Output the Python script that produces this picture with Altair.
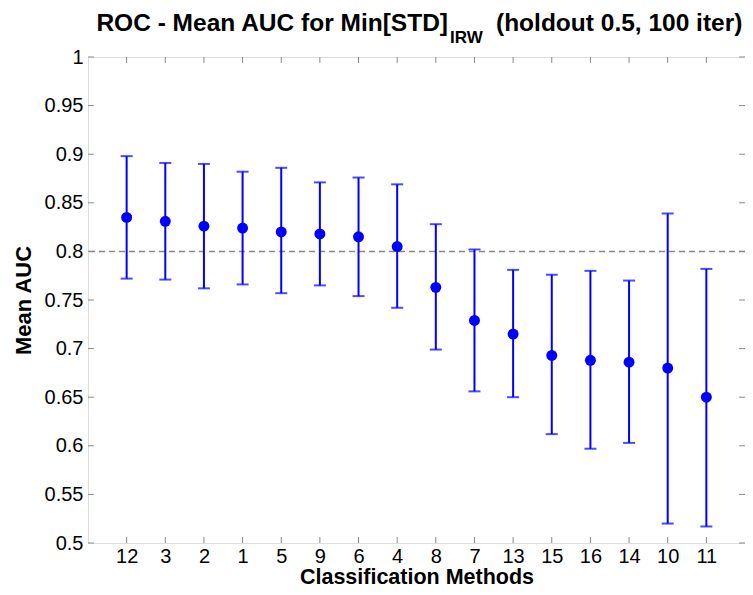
import altair as alt
import pandas as pd

# ---- data ----
methods = ["12", "3", "2", "1", "5", "9", "6", "4", "8", "7", "13", "15", "16", "14", "10", "11"]
mean_auc = [0.835, 0.831, 0.826, 0.824, 0.820, 0.818, 0.815, 0.805, 0.763, 0.729,
            0.715, 0.693, 0.688, 0.686, 0.680, 0.650]
upper = [0.898, 0.891, 0.890, 0.882, 0.886, 0.871, 0.876, 0.869, 0.828, 0.802,
         0.781, 0.776, 0.780, 0.770, 0.839, 0.782]
lower = [0.772, 0.771, 0.762, 0.766, 0.757, 0.765, 0.754, 0.742, 0.699, 0.656,
         0.650, 0.612, 0.597, 0.603, 0.520, 0.517]
y_ticks = [0.5, 0.55, 0.6, 0.65, 0.7, 0.75, 0.8, 0.85, 0.9, 0.95, 1.0]
threshold = [0.8]
title_main = ["ROC - Mean AUC for Min[STD]"]
title_sub = ["IRW"]
title_tail = ["(holdout 0.5, 100 iter)"]
x_title = "Classification Methods"
y_title = "Mean AUC"

FONT = "Liberation Sans"
BLUE = "#0000ff"
GRAY = "#8a8a8a"
W, H = 657, 486
TOP = 49  # plot top sits at 8 + TOP

df = pd.DataFrame({"method": methods, "auc": mean_auc, "lo": lower, "hi": upper})
xs = alt.Scale(type="point", domain=methods, padding=1)
ys = alt.Scale(domain=[0.5, 1.0], nice=False, zero=False)

xaxis = alt.Axis(title=x_title, labelAngle=0, domain=False, ticks=False, tickSize=0,
                 grid=False, labelFont=FONT, labelFontSize=20, labelColor="black",
                 labelPadding=3, titleFont=FONT, titleFontSize=21.5, titleFontWeight="bold",
                 titleColor="black", titleBaseline="alphabetic", titleY=40)
yaxis = alt.Axis(title=y_title, values=y_ticks, format=".2~f", domain=False, ticks=False,
                 tickSize=0, grid=False, labelFont=FONT, labelFontSize=20,
                 labelColor="black", labelPadding=5, titleFont=FONT, titleFontSize=22,
                 titleFontWeight="bold", titleColor="black", titleBaseline="alphabetic",
                 titleX=-58, titleY=H / 2, titleAlign="center", titleAngle=270)


def xenc(field="method"):
    return alt.X(f"{field}:N", scale=xs, axis=xaxis)


def yenc(field):
    return alt.Y(f"{field}:Q", scale=ys, axis=yaxis)


dash = alt.Chart(pd.DataFrame({"thr": threshold})).mark_rule(
    color="#888888", strokeWidth=1.5, strokeDash=[6, 4]
).encode(y=yenc("thr"))

bars = alt.Chart(df).mark_rule(color=BLUE, strokeWidth=2).encode(
    x=xenc(), y=yenc("lo"), y2="hi:Q")
cap_lo = alt.Chart(df).mark_tick(color=BLUE, thickness=2, size=12, orient="horizontal").encode(
    x=xenc(), y=yenc("lo"))
cap_hi = alt.Chart(df).mark_tick(color=BLUE, thickness=2, size=12, orient="horizontal").encode(
    x=xenc(), y=yenc("hi"))
pts = alt.Chart(df).mark_circle(color=BLUE, size=120, opacity=1).encode(
    x=xenc(), y=yenc("auc"))

xt = pd.DataFrame({"method": methods})
yt = pd.DataFrame({"v": y_ticks})
tick_b = alt.Chart(xt).mark_rule(color=GRAY, strokeWidth=1).encode(
    x=xenc(), y=alt.value(H), y2=alt.value(H - 6))
tick_t = alt.Chart(xt).mark_rule(color=GRAY, strokeWidth=1).encode(
    x=xenc(), y=alt.value(0), y2=alt.value(6))
tick_l = alt.Chart(yt).mark_rule(color=GRAY, strokeWidth=1).encode(
    y=yenc("v"), x=alt.value(0), x2=alt.value(6))
tick_r = alt.Chart(yt).mark_rule(color=GRAY, strokeWidth=1).encode(
    y=yenc("v"), x=alt.value(W - 6), x2=alt.value(W))

top_abs = 8 + TOP
t1 = alt.Chart(pd.DataFrame({"t": title_main})).mark_text(
    font=FONT, fontSize=24.5, fontWeight="bold", align="right", baseline="alphabetic",
    color="black").encode(x=alt.value(360), y=alt.value(31 - top_abs), text="t:N")
t2 = alt.Chart(pd.DataFrame({"t": title_sub})).mark_text(
    font=FONT, fontSize=17, fontWeight="bold", align="left", baseline="alphabetic",
    color="black").encode(x=alt.value(362), y=alt.value(43 - top_abs), text="t:N")
t3 = alt.Chart(pd.DataFrame({"t": title_tail})).mark_text(
    font=FONT, fontSize=24.5, fontWeight="bold", align="left", baseline="alphabetic",
    color="black").encode(x=alt.value(408), y=alt.value(31 - top_abs), text="t:N")

chart = alt.layer(
    dash, bars, cap_lo, cap_hi, pts, tick_b, tick_t, tick_l, tick_r, t1, t2, t3
).properties(
    width=W, height=H,
    autosize=alt.AutoSizeParams(type="none"),
    padding={"left": 80, "top": TOP, "right": 0, "bottom": 579 - TOP - H},
).configure_view(stroke=GRAY, strokeWidth=1).configure(background="white")

chart.save("out.html", embed_options={"renderer": "svg", "actions": False})
